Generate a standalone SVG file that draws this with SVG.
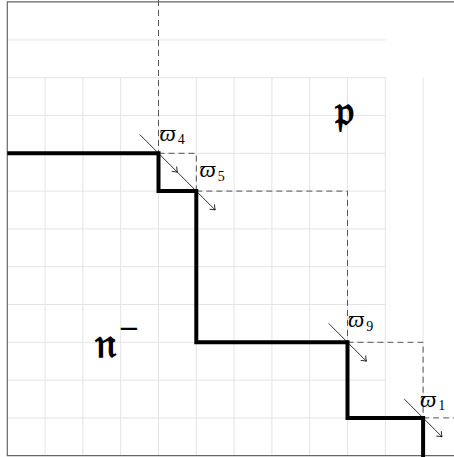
<svg xmlns="http://www.w3.org/2000/svg" width="454" height="457" viewBox="0 0 454 457">
<style>
.grid{stroke:#e4e4e4;stroke-width:1;fill:none}
.frame{stroke:#666;stroke-width:1.2;fill:none}
.dash{stroke:#555;stroke-width:1;stroke-dasharray:6 4;fill:none}
.bold{stroke:#000;stroke-width:4;fill:none;stroke-linejoin:miter}
.arr{stroke:#000;stroke-width:0.8;fill:none;marker-end:url(#tip)}
.lbl{font-family:"Liberation Serif","DejaVu Serif",serif;font-style:italic;fill:#000}
.sub{font-style:normal}
.frak{font-family:"DejaVu Serif","DejaVu Sans","Noto Sans",serif;font-weight:bold;fill:#000}
.mn{font-family:"DejaVu Sans",sans-serif;font-weight:normal}
</style>
<defs>
<marker id="tip" markerUnits="userSpaceOnUse" markerWidth="12" markerHeight="12" viewBox="-6 -6 12 12" refX="0" refY="0" orient="auto">
<path d="M-4.5,-3.5 Q-1.5,-0.8 0,0 Q-1.5,0.8 -4.5,3.5" stroke="#000" stroke-width="0.8" fill="none"/>
</marker>
</defs>
<rect width="454" height="457" fill="#fff"/>
<g id="grid">
<path class="grid" d="M7.3,39.9H385.3 M7.3,77.7H385.3 M7.3,115.5H385.3 M7.3,153.3H385.3 M7.3,191.1H385.3 M7.3,228.9H385.3 M7.3,266.7H385.3 M7.3,304.5H385.3 M7.3,342.3H385.3 M7.3,380.1H385.3 M7.3,417.9H385.3"/>
<path class="grid" d="M45.1,77.7V455.7 M82.9,77.7V455.7 M120.7,77.7V455.7 M158.5,77.7V455.7 M196.3,77.7V455.7 M234.1,77.7V455.7 M271.9,77.7V455.7 M309.7,77.7V455.7 M347.5,77.7V455.7 M385.3,77.7V455.7 M423.1,77.7V455.7"/>
<path class="frame" d="M454,1.8H7.3V455.7H454"/>
</g>
<g id="connectors">
<path class="dash" d="M158.5,0V153.3"/>
<path class="dash" d="M158.5,153.3H196.3V191.1"/>
<path class="dash" d="M196.3,191.1H347.5V342.3"/>
<path class="dash" d="M347.5,342.3H423.1V417.9"/>
<path class="dash" d="M423.1,417.9H454"/>
<path class="bold" d="M7.3,153.3H158.5V191.1H196.3V342.3H347.5V417.9H423.1V457"/>
<path class="arr" d="M139.6,134.4L177.4,172.2"/>
<path class="arr" d="M177.4,172.2L215.2,210"/>
<path class="arr" d="M328.6,323.4L366.4,361.2"/>
<path class="arr" d="M404.2,399L442,436.8"/>
</g>
<g id="w4"><text class="lbl" x="159.5" y="140.5" font-size="23">ϖ<tspan class="sub" font-size="14" dx="2" dy="3.5">4</tspan></text></g>
<g id="w5"><text class="lbl" x="199.5" y="177" font-size="23">ϖ<tspan class="sub" font-size="14" dx="2" dy="3.5">5</tspan></text></g>
<g id="w9"><text class="lbl" x="348" y="327" font-size="23">ϖ<tspan class="sub" font-size="14" dx="2" dy="3.5">9</tspan></text></g>
<g id="w1"><text class="lbl" x="420" y="406.5" font-size="23">ϖ<tspan class="sub" font-size="14" dx="2" dy="3.5">1</tspan></text></g>
<g id="p"><text class="frak" x="335" y="125" font-size="42">𝔭</text></g>
<g id="nminus"><text class="frak" x="95" y="357" font-size="42">𝔫<tspan class="mn" font-size="26" dx="2" dy="-20">−</tspan></text></g>
</svg>
